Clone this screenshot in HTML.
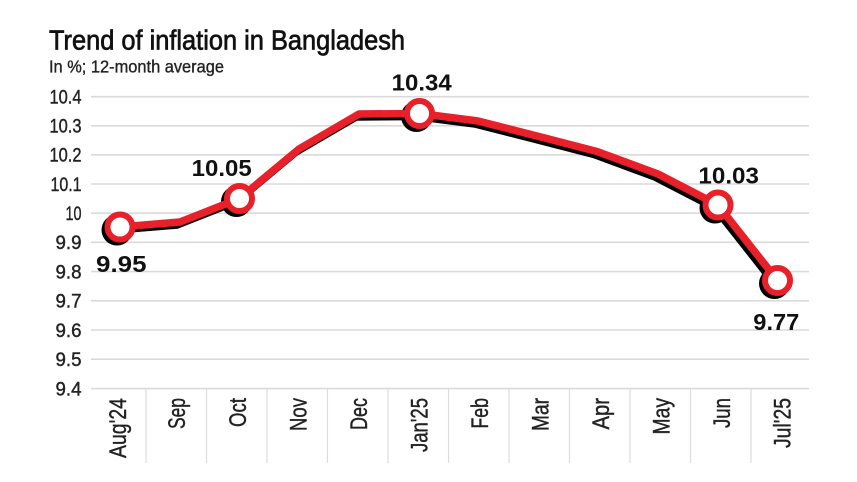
<!DOCTYPE html>
<html><head><meta charset="utf-8"><style>
html,body{margin:0;padding:0;background:#fff;}
svg{display:block;}
text{font-family:"Liberation Sans",sans-serif;}
</style></head><body>
<svg width="857" height="482" viewBox="0 0 857 482" xmlns="http://www.w3.org/2000/svg">
<rect width="857" height="482" fill="#fff"/>
<text x="49" y="49.5" font-size="28" fill="#111" stroke="#111" stroke-width="0.7" textLength="356" lengthAdjust="spacingAndGlyphs">Trend of inflation in Bangladesh</text>
<text x="49" y="72.5" font-size="17.5" fill="#222" stroke="#222" stroke-width="0.35" textLength="175" lengthAdjust="spacingAndGlyphs">In %; 12-month average</text>
<g stroke="#dadada" stroke-width="1.6">
<line x1="91" y1="96.7" x2="809" y2="96.7"/>
<line x1="91" y1="125.8" x2="809" y2="125.8"/>
<line x1="91" y1="154.8" x2="809" y2="154.8"/>
<line x1="91" y1="184" x2="809" y2="184"/>
<line x1="91" y1="213.2" x2="809" y2="213.2"/>
<line x1="91" y1="242.3" x2="809" y2="242.3"/>
<line x1="91" y1="271.6" x2="809" y2="271.6"/>
<line x1="91" y1="300.8" x2="809" y2="300.8"/>
<line x1="91" y1="330" x2="809" y2="330"/>
<line x1="91" y1="359.2" x2="809" y2="359.2"/>
<line x1="91" y1="388.6" x2="809" y2="388.6"/>
</g>
<g stroke="#dcdcdc" stroke-width="1.2">
<line x1="146" y1="389" x2="146" y2="463"/>
<line x1="206.5" y1="389" x2="206.5" y2="463"/>
<line x1="267" y1="389" x2="267" y2="463"/>
<line x1="327.5" y1="389" x2="327.5" y2="463"/>
<line x1="388" y1="389" x2="388" y2="463"/>
<line x1="448.5" y1="389" x2="448.5" y2="463"/>
<line x1="509" y1="389" x2="509" y2="463"/>
<line x1="569.5" y1="389" x2="569.5" y2="463"/>
<line x1="630" y1="389" x2="630" y2="463"/>
<line x1="690.5" y1="389" x2="690.5" y2="463"/>
<line x1="751" y1="389" x2="751" y2="463"/>
</g>
<g font-size="19" fill="#222" stroke="#222" stroke-width="0.4" text-anchor="end">
<text x="81.5" y="103.7" textLength="32" lengthAdjust="spacingAndGlyphs">10.4</text>
<text x="81.5" y="132.6" textLength="32" lengthAdjust="spacingAndGlyphs">10.3</text>
<text x="81.5" y="161.6" textLength="32" lengthAdjust="spacingAndGlyphs">10.2</text>
<text x="81.5" y="190.8" textLength="31" lengthAdjust="spacingAndGlyphs">10.1</text>
<text x="81.5" y="220" textLength="16" lengthAdjust="spacingAndGlyphs">10</text>
<text x="81.5" y="249.1" textLength="26" lengthAdjust="spacingAndGlyphs">9.9</text>
<text x="81.5" y="278.4" textLength="26" lengthAdjust="spacingAndGlyphs">9.8</text>
<text x="81.5" y="307.6" textLength="26" lengthAdjust="spacingAndGlyphs">9.7</text>
<text x="81.5" y="336.8" textLength="26" lengthAdjust="spacingAndGlyphs">9.6</text>
<text x="81.5" y="366" textLength="26" lengthAdjust="spacingAndGlyphs">9.5</text>
<text x="81.5" y="395.4" textLength="26" lengthAdjust="spacingAndGlyphs">9.4</text>
</g>
<g font-size="24" fill="#222" stroke="#222" stroke-width="0.4" text-anchor="end">
<text transform="translate(126,398) rotate(-90)" textLength="60" lengthAdjust="spacingAndGlyphs">Aug'24</text>
<text transform="translate(185,398) rotate(-90)" textLength="31" lengthAdjust="spacingAndGlyphs">Sep</text>
<text transform="translate(246,398) rotate(-90)" textLength="29" lengthAdjust="spacingAndGlyphs">Oct</text>
<text transform="translate(306.5,398) rotate(-90)" textLength="33" lengthAdjust="spacingAndGlyphs">Nov</text>
<text transform="translate(367,398) rotate(-90)" textLength="32" lengthAdjust="spacingAndGlyphs">Dec</text>
<text transform="translate(427.5,398) rotate(-90)" textLength="54" lengthAdjust="spacingAndGlyphs">Jan'25</text>
<text transform="translate(488,398) rotate(-90)" textLength="30.5" lengthAdjust="spacingAndGlyphs">Feb</text>
<text transform="translate(548.5,398) rotate(-90)" textLength="33" lengthAdjust="spacingAndGlyphs">Mar</text>
<text transform="translate(609,398) rotate(-90)" textLength="31.5" lengthAdjust="spacingAndGlyphs">Apr</text>
<text transform="translate(669.5,398) rotate(-90)" textLength="36.5" lengthAdjust="spacingAndGlyphs">May</text>
<text transform="translate(730,398) rotate(-90)" textLength="30" lengthAdjust="spacingAndGlyphs">Jun</text>
<text transform="translate(790.5,398) rotate(-90)" textLength="50" lengthAdjust="spacingAndGlyphs">Jul'25</text>
</g>
<g transform="translate(-3,3)">
<polyline fill="none" stroke="#000" stroke-width="7.5" stroke-linejoin="round" stroke-linecap="round" points="120,227 180,222 239.5,198.5 299,149 359,114 419.5,113.5 478,121 537,136 597,151.5 658,174 718,205 777.5,280.5"/>
<g fill="#000">
<circle cx="120" cy="227" r="15.5"/>
<circle cx="239.5" cy="198.5" r="15.5"/>
<circle cx="419.5" cy="113.5" r="15.5"/>
<circle cx="718" cy="205" r="15.5"/>
<circle cx="777.5" cy="280.5" r="15.5"/>
</g>
</g>
<polyline fill="none" stroke="#e8202a" stroke-width="7.5" stroke-linejoin="round" stroke-linecap="round" points="120,227 180,222 239.5,198.5 299,149 359,114 419.5,113.5 478,121 537,136 597,151.5 658,174 718,205 777.5,280.5"/>
<g fill="#fff" stroke="#e8202a" stroke-width="6">
<circle cx="120" cy="227" r="12.5"/>
<circle cx="239.5" cy="198.5" r="12.5"/>
<circle cx="419.5" cy="113.5" r="12.5"/>
<circle cx="718" cy="205" r="12.5"/>
<circle cx="777.5" cy="280.5" r="12.5"/>
</g>
<g font-size="23" font-weight="bold" fill="#111" text-anchor="middle">
<text x="121.3" y="272" textLength="50.5" lengthAdjust="spacingAndGlyphs">9.95</text>
<text x="221.7" y="176" textLength="60" lengthAdjust="spacingAndGlyphs">10.05</text>
<text x="421.7" y="90.7" textLength="60" lengthAdjust="spacingAndGlyphs">10.34</text>
<text x="728.7" y="183.3" textLength="60.5" lengthAdjust="spacingAndGlyphs">10.03</text>
<text x="776.3" y="330" textLength="46" lengthAdjust="spacingAndGlyphs">9.77</text>
</g>
</svg>
</body></html>
